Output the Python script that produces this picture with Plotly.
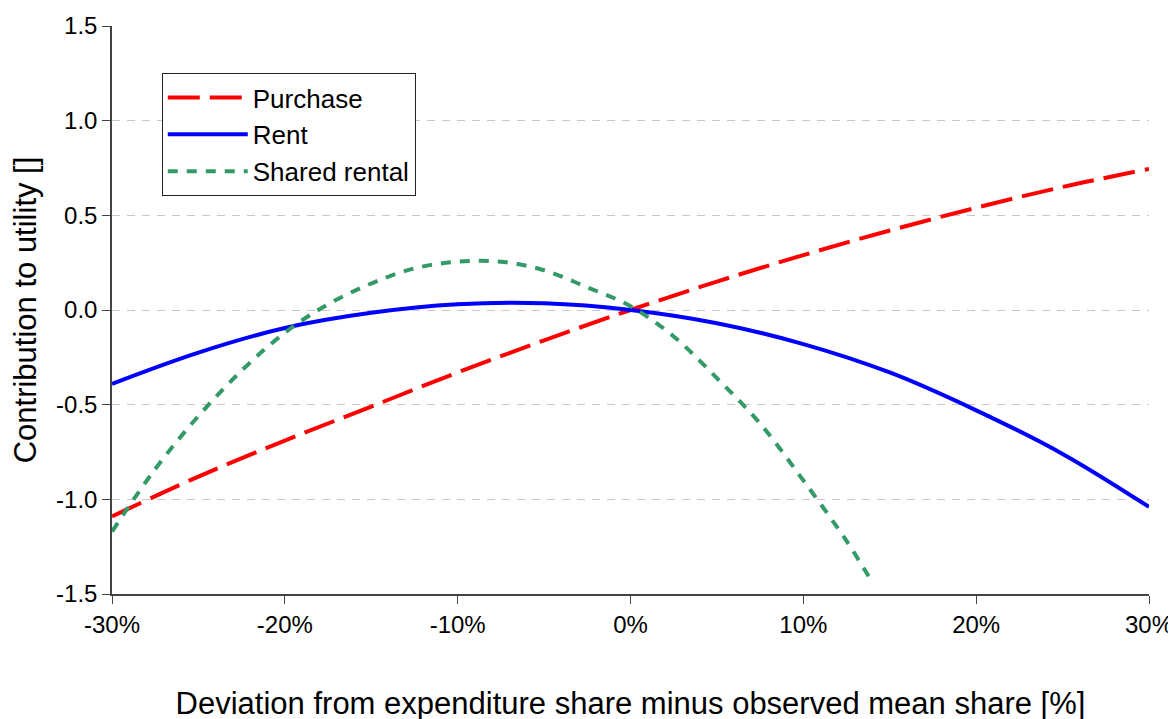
import plotly.graph_objects as go

# x: deviation (%)
x_purchase = [-30, -25, -20, -15, -10, -5, 0, 5, 10, 15, 20, 25, 30]
y_purchase = [-1.09, -0.88, -0.69, -0.51, -0.33, -0.16, 0.0, 0.15, 0.29, 0.42, 0.54, 0.65, 0.745]

x_rent = [-30, -25, -20, -15, -10, -5, 0, 5, 10, 15, 20, 25, 30]
y_rent = [-0.39, -0.225, -0.095, -0.015, 0.03, 0.035, 0.0, -0.07, -0.18, -0.33, -0.53, -0.76, -1.04]

x_shared = [-30, -27.5, -25, -22.5, -20, -17.5, -15, -12.5, -10, -7.5, -5, -2.5, 0, 2.5, 5, 7.5, 10, 12.5, 14]
y_shared = [-1.17, -0.84, -0.56, -0.32, -0.12, 0.03, 0.14, 0.22, 0.255, 0.255, 0.21, 0.12, 0.02, -0.14, -0.36, -0.60, -0.90, -1.22, -1.44]

x_ticks = [-30, -20, -10, 0, 10, 20, 30]
x_tick_labels = ["-30%", "-20%", "-10%", "0%", "10%", "20%", "30%"]
y_ticks = [-1.5, -1.0, -0.5, 0.0, 0.5, 1.0, 1.5]
y_tick_labels = ["-1.5", "-1.0", "-0.5", "0.0", "0.5", "1.0", "1.5"]

fig = go.Figure()
fig.add_trace(go.Scatter(x=x_purchase, y=y_purchase, mode="lines", name="Purchase",
                         line=dict(color="#FF0000", width=4, dash="32px,10px", shape="spline")))
fig.add_trace(go.Scatter(x=x_rent, y=y_rent, mode="lines", name="Rent",
                         line=dict(color="#0000FF", width=4, shape="spline")))
fig.add_trace(go.Scatter(x=x_shared, y=y_shared, mode="lines", name="Shared rental",
                         line=dict(color="#339966", width=4, dash="10px,9px", shape="spline")))

font_family = "Liberation Sans, Arial, sans-serif"
fig.update_layout(
    width=1176, height=719,
    margin=dict(l=104, r=35, t=18, b=133),
    paper_bgcolor="white", plot_bgcolor="white",
    font=dict(family=font_family, size=24, color="black"),
    showlegend=True,
    legend=dict(x=0.048, y=0.917, xanchor="left", yanchor="top",
                bordercolor="#222", borderwidth=1, bgcolor="white",
                itemwidth=80, entrywidth=250, entrywidthmode="pixels",
                font=dict(size=26, family=font_family)),
    xaxis=dict(range=[-30, 30], tickvals=x_ticks, ticktext=x_tick_labels, automargin=False,
               showgrid=False, zeroline=False, showline=True, linecolor="#444", linewidth=1.5,
               ticks="outside", ticklen=8, tickcolor="#444",
               title=dict(text="Deviation from expenditure share minus observed mean share [%]",
                          font=dict(size=31), standoff=56)),
    yaxis=dict(range=[-1.5, 1.5], tickvals=y_ticks, ticktext=y_tick_labels, automargin=False,
               showgrid=True, gridcolor="#C8C8C8", griddash="8px,7px", gridwidth=1,
               zeroline=False, showline=True, linecolor="#444", linewidth=1.5,
               ticks="outside", ticklen=8, tickcolor="#444",
               title=dict(text="Contribution to utility []", font=dict(size=31), standoff=14)),
)

fig.write_html("out.html")
